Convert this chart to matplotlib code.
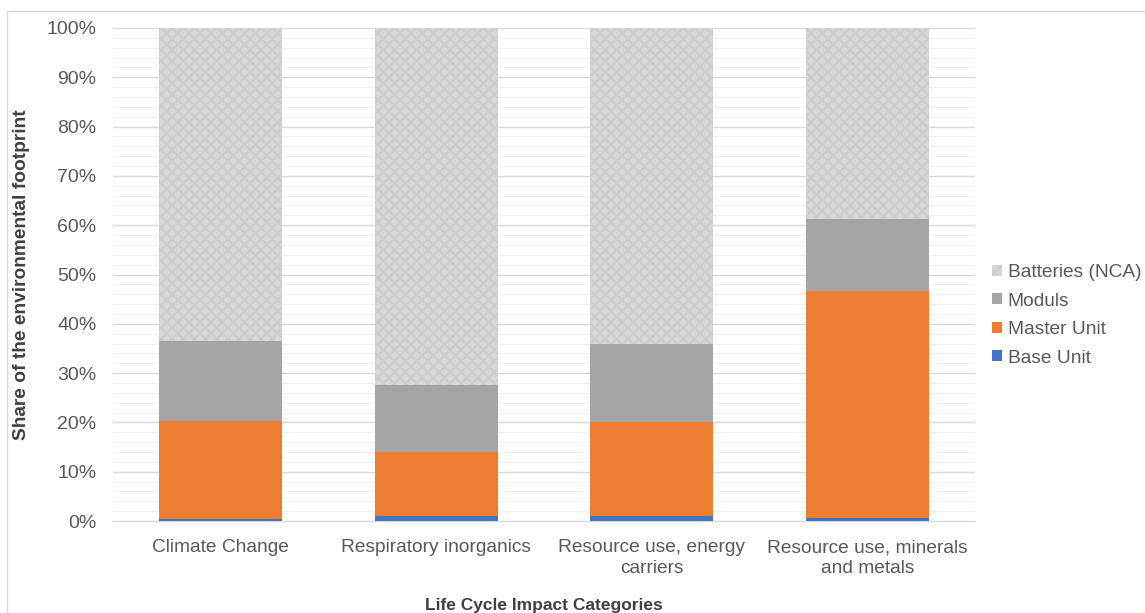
import matplotlib
matplotlib.use("Agg")
import matplotlib.pyplot as plt
from matplotlib.patches import Rectangle
from matplotlib.ticker import MultipleLocator, PercentFormatter
import numpy as np

categories = ["Climate Change", "Respiratory inorganics",
              "Resource use, energy\ncarriers", "Resource use, minerals\nand metals"]
base_unit = [0.5, 1.0, 1.0, 0.7]
master_unit = [19.8, 13.0, 19.1, 46.0]
moduls = [16.2, 13.6, 15.8, 14.6]
batteries = [100 - b - m - d for b, m, d in zip(base_unit, master_unit, moduls)]

series_names = ["Base Unit", "Master Unit", "Moduls", "Batteries (NCA)"]
colors = ["#4472c4", "#ed7d31", "#a5a5a5", "#d7d7d7"]

plt.rcParams['font.family'] = ['Liberation Sans', 'DejaVu Sans']
plt.rcParams['hatch.linewidth'] = 1.6

fig = plt.figure(figsize=(11.45, 6.13), dpi=100)
ax = fig.add_axes([113/1145, 1 - 521/613, (975 - 113)/1145, (521 - 28)/613])

x = np.arange(len(categories))
w = 0.57
bottom = np.zeros(len(categories))
handles = []
for name, vals, col in zip(series_names, [base_unit, master_unit, moduls, batteries], colors):
    if name.startswith("Batteries"):
        h = ax.bar(x, vals, w, bottom=bottom, color=col, edgecolor="#cccccc",
                   hatch="xxx", linewidth=0, label=name, zorder=3)
    else:
        h = ax.bar(x, vals, w, bottom=bottom, color=col, linewidth=0, label=name, zorder=3)
    handles.append(h)
    bottom += np.array(vals)

ax.set_xlim(-0.5, len(categories) - 0.5)
ax.set_ylim(0, 100)
ax.yaxis.set_major_locator(MultipleLocator(10))
ax.yaxis.set_minor_locator(MultipleLocator(2))
ax.yaxis.set_major_formatter(PercentFormatter(decimals=0))
ax.grid(axis='y', which='major', color='#d9d9d9', linewidth=1.0, zorder=0)
ax.grid(axis='y', which='minor', color='#f0f0f0', linewidth=0.8, zorder=0)
ax.set_axisbelow(True)
for s in ["top", "right", "left"]:
    ax.spines[s].set_visible(False)
ax.spines["bottom"].set_color("#d9d9d9")
ax.tick_params(axis='both', which='both', length=0, colors="#595959")
ax.tick_params(axis='y', pad=12, labelsize=14)
ax.tick_params(axis='x', pad=13, labelsize=13.8)
ax.set_xticks(x)
ax.set_xticklabels(categories, color="#595959", linespacing=1.3)

ax.set_ylabel("Share of the environmental footprint", fontsize=13.8, fontweight='bold',
              color="#404040", labelpad=12)
ax.set_xlabel("Life Cycle Impact Categories", fontsize=12.5, fontweight='bold',
              color="#404040", labelpad=15)

leg = ax.legend(handles=handles[::-1], labels=series_names[::-1], loc='center left',
                bbox_to_anchor=(0.998, 0.417), frameon=False, fontsize=13.8,
                handlelength=0.5, handleheight=0.5, handletextpad=0.3,
                labelspacing=0.6, labelcolor="#595959", borderaxespad=0.6)

fig.patches.append(Rectangle((7/1145, -0.05), 1.2, 1 - 11/613 + 0.05, transform=fig.transFigure,
                             fill=False, edgecolor="#d9d9d9", linewidth=1.0))

fig.savefig("out.png", dpi=100)
